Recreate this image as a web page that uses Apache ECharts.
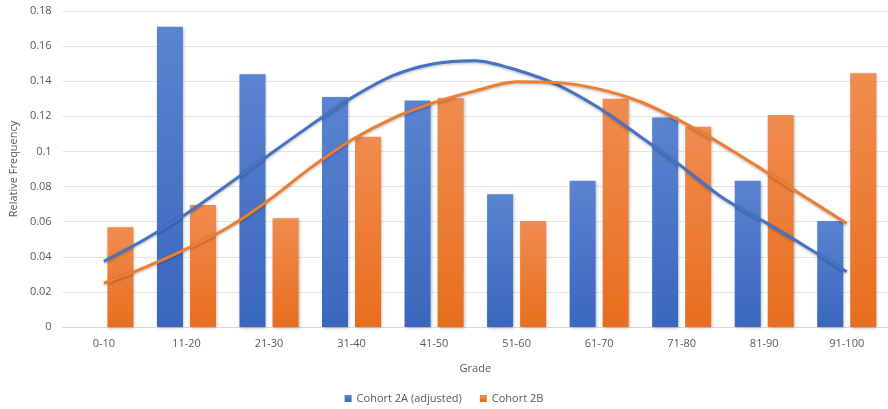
<!DOCTYPE html>
<html>
<head>
<meta charset="utf-8">
<script src="https://cdn.jsdelivr.net/npm/echarts@6/dist/echarts.min.js"></script>
<style>
  html, body { margin: 0; padding: 0; background: #fff; }
  #chart { width: 888px; height: 409px; }
</style>
</head>
<body>
<div id="chart"></div>
<script>
// 成绩分组
var grades = ['0-10', '11-20', '21-30', '31-40', '41-50', '51-60', '61-70', '71-80', '81-90', '91-100'];
// 柱状图数据
var cohort2A = [0, 0.171, 0.144, 0.131, 0.129, 0.0756, 0.0833, 0.1194, 0.0833, 0.0604];
var cohort2B = [0.0568, 0.0695, 0.0619, 0.1084, 0.1303, 0.0604, 0.130, 0.1141, 0.1208, 0.1445];
// 拟合曲线 (位置以分组为单位, 0.5 = 第一组中心)
var curveX = [0.5, 1, 1.5, 2, 2.5, 3, 3.5, 4, 4.5, 5, 5.5, 6, 6.5, 7, 7.5, 8, 8.5, 9, 9.5];
var curve2A = [0.0374, 0.050, 0.0645, 0.081, 0.098, 0.1147, 0.1305, 0.1432, 0.150, 0.1517,
               0.1464, 0.1378, 0.1247, 0.1084, 0.0915, 0.0735, 0.060, 0.0459, 0.0315];
var curve2B = [0.025, 0.034, 0.0445, 0.0565, 0.0723, 0.0905, 0.1065, 0.1189, 0.1278, 0.1345,
               0.1397, 0.1392, 0.1355, 0.1283, 0.117, 0.1037, 0.089, 0.0739, 0.059];
// y轴刻度
var yTicks = { min: 0, max: 0.18, step: 0.02 };

var blue = '#4472C4';
var orange = '#ED7D31';
var textColor = '#595959';
var font = 'Open Sans';

function barGradient(top, bottom) {
    return new echarts.graphic.LinearGradient(0, 0, 0, 1, [
        { offset: 0, color: top },
        { offset: 1, color: bottom }
    ]);
}

function pairs(xs, ys) {
    return xs.map(function (x, i) { return [x, ys[i]]; });
}

var myChart = echarts.init(document.getElementById('chart'));
var option = {
    animation: false,
    textStyle: { fontFamily: font },
    legend: {
        data: ['Cohort 2A (adjusted)', 'Cohort 2B'],
        bottom: 0,
        left: 'center',
        icon: 'rect',
        itemWidth: 7,
        itemHeight: 7,
        itemGap: 18,
        textStyle: { color: textColor, fontSize: 11, fontFamily: font }
    },
    grid: {
        left: 57,
        top: 11,
        width: 834,
        height: 316
    },
    xAxis: [{
        type: 'category',
        data: grades,
        name: 'Grade',
        nameLocation: 'middle',
        nameGap: 36,
        nameTextStyle: { color: textColor, fontSize: 11 },
        axisLine: { lineStyle: { color: '#D9D9D9', width: 1 } },
        axisTick: { show: false },
        axisLabel: { color: textColor, fontSize: 11, margin: 11 }
    }, {
        // 曲线用的隐藏数值轴
        type: 'value',
        min: 0,
        max: grades.length,
        show: false
    }],
    yAxis: {
        type: 'value',
        min: yTicks.min,
        max: yTicks.max,
        interval: yTicks.step,
        name: 'Relative Frequency',
        nameLocation: 'middle',
        nameGap: 42,
        nameTextStyle: { color: textColor, fontSize: 11 },
        axisLine: { show: false },
        axisTick: { show: false },
        axisLabel: { color: textColor, fontSize: 11, margin: 11 },
        splitLine: { lineStyle: { color: '#E4E4E4', width: 1 } }
    },
    series: [
        {
            name: 'Cohort 2A (adjusted)',
            type: 'bar',
            data: cohort2A,
            barWidth: 26,
            barGap: '27%',
            itemStyle: {
                color: barGradient('#5A84D0', '#3A66BD'),
                shadowColor: 'rgba(0,0,0,0.3)',
                shadowBlur: 3,
                shadowOffsetX: 1,
                shadowOffsetY: 1
            }
        },
        {
            name: 'Cohort 2B',
            type: 'bar',
            data: cohort2B,
            barWidth: 26,
            barGap: '27%',
            itemStyle: {
                color: barGradient('#F08C50', '#E86E1E'),
                shadowColor: 'rgba(0,0,0,0.3)',
                shadowBlur: 3,
                shadowOffsetX: 1,
                shadowOffsetY: 1
            }
        },
        {
            name: 'curve2A',
            type: 'line',
            xAxisIndex: 1,
            data: pairs(curveX, curve2A),
            smooth: 0.3,
            symbol: 'none',
            z: 5,
            lineStyle: {
                color: blue,
                width: 3,
                shadowColor: 'rgba(0,0,0,0.3)',
                shadowBlur: 3,
                shadowOffsetY: 1
            }
        },
        {
            name: 'curve2B',
            type: 'line',
            xAxisIndex: 1,
            data: pairs(curveX, curve2B),
            smooth: 0.3,
            symbol: 'none',
            z: 5,
            lineStyle: {
                color: orange,
                width: 3,
                shadowColor: 'rgba(0,0,0,0.3)',
                shadowBlur: 3,
                shadowOffsetY: 1
            }
        }
    ]
};
option && myChart.setOption(option);
</script>
</body>
</html>
